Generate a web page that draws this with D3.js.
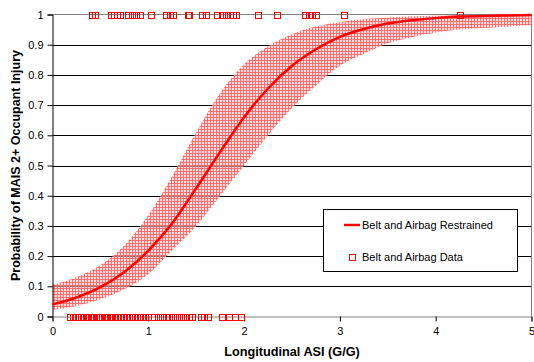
<!DOCTYPE html>
<html><head><meta charset="utf-8">
<script src="https://cdn.jsdelivr.net/npm/d3@7"></script>
<style>
body{margin:0;background:#fff;}
text{font-family:"Liberation Sans",Arial,sans-serif;}
</style></head>
<body><svg id="c" width="534" height="362"></svg>
<script>
const curveX = [0,0.25,0.5,0.75,1,1.25,1.5,1.75,2,2.25,2.5,2.75,3,3.25,3.5,3.75,4,4.25,4.5,4.75,5];
const curveP = [0.040,0.063,0.097,0.147,0.218,0.309,0.425,0.545,0.660,0.755,0.830,0.885,0.926,0.952,0.970,0.981,0.988,0.993,0.995,0.997,0.998];
const upperP = [0.105,0.13,0.17,0.235,0.335,0.465,0.61,0.74,0.835,0.895,0.935,0.96,0.975,0.985,0.99,0.994,0.996,0.997,0.998,0.999,0.999];
const lowerP = [0.022,0.035,0.057,0.09,0.14,0.22,0.30,0.40,0.50,0.60,0.69,0.765,0.83,0.87,0.905,0.925,0.94,0.95,0.955,0.96,0.965];
const injuredASI = [0.41,0.44,0.61,0.64,0.67,0.70,0.79,0.83,0.87,0.91,1.03,1.18,1.23,1.26,1.41,1.43,1.56,1.60,1.72,1.77,1.81,1.85,1.88,1.92,2.15,2.34,2.64,2.68,2.71,2.75,3.04,4.25];
const uninjuredASI = [0.18,0.21,0.24,0.27,0.30,0.32,0.35,0.37,0.40,0.42,0.45,0.47,0.50,0.52,0.55,0.57,0.60,0.62,0.65,0.67,0.70,0.72,0.75,0.78,0.80,0.83,0.86,0.88,0.91,0.94,0.97,1.00,1.06,1.10,1.14,1.18,1.22,1.26,1.30,1.34,1.38,1.42,1.46,1.55,1.58,1.62,1.77,1.84,1.91,1.97];
const xTicks = [0,1,2,3,4,5];
const yTicks = [0,0.1,0.2,0.3,0.4,0.5,0.6,0.7,0.8,0.9,1];
const xTitle = "Longitudinal ASI (G/G)";
const yTitle = "Probability of MAIS 2+ Occupant Injury";
const legendLabels = ["Belt and Airbag Restrained","Belt and Airbag Data"];

const svg = d3.select("#c");
const L=52.5, R=531.5, T=14.5, B=316.5;
const x = d3.scaleLinear().domain([0,5]).range([L,R]);
const y = d3.scaleLinear().domain([0,1]).range([B,T]);

const defs = svg.append("defs");
const pat = defs.append("pattern").attr("id","hatch").attr("patternUnits","userSpaceOnUse")
  .attr("width",3).attr("height",3);
pat.append("rect").attr("width",3).attr("height",3).attr("fill","#ffc8c8").attr("opacity",0.6);
pat.append("rect").attr("x",0).attr("y",0).attr("width",3).attr("height",1).attr("fill","#ff5a5a").attr("opacity",0.8);
pat.append("rect").attr("x",0).attr("y",0).attr("width",1).attr("height",3).attr("fill","#ff5a5a").attr("opacity",0.8);

// gridlines
svg.append("g").selectAll("line").data(yTicks.filter(d=>d>0 && d<1)).join("line")
  .attr("x1",L).attr("x2",R).attr("y1",d=>Math.round(y(d))+0.5).attr("y2",d=>Math.round(y(d))+0.5)
  .attr("stroke","#000").attr("stroke-width",1);
// plot border (gray)
svg.append("line").attr("x1",L).attr("x2",R).attr("y1",T).attr("y2",T).attr("stroke","#808080");
svg.append("line").attr("x1",R).attr("x2",R).attr("y1",T).attr("y2",B).attr("stroke","#808080");

const band = curveX.map((d,i)=>({x:d,lo:lowerP[i],hi:upperP[i],p:curveP[i]}));
svg.append("path").datum(band)
  .attr("d",d3.area().x(d=>x(d.x)).y0(d=>y(d.lo)).y1(d=>y(d.hi)).curve(d3.curveMonotoneX))
  .attr("fill","url(#hatch)");

// x axis
const xa = svg.append("g").attr("transform",`translate(0,${B})`)
  .call(d3.axisBottom(x).tickValues(xTicks).tickSize(5).tickFormat(d3.format("d")));
xa.select(".domain").attr("stroke","#808080");
xa.selectAll(".tick line").attr("stroke","#000");
xa.selectAll("text").attr("font-size",11).attr("fill","#000").attr("dy","0.95em");
// y axis
const ya = svg.append("g").attr("transform",`translate(${L},0)`)
  .call(d3.axisLeft(y).tickValues(yTicks).tickSize(5).tickFormat(d=>d3.format("")(+d.toFixed(1))));
ya.select(".domain").attr("stroke","#000");
ya.selectAll("text").attr("font-size",11).attr("fill","#000").attr("x",-9);

// curve
svg.append("path").datum(band)
  .attr("d",d3.line().x(d=>x(d.x)).y(d=>y(d.p)).curve(d3.curveMonotoneX))
  .attr("fill","none").attr("stroke","#ff0000").attr("stroke-width",2.5);

// data markers
const s=6;
const mx = d=>Math.round(x(d)-s/2)+0.5;
svg.append("g").selectAll("rect").data(injuredASI).join("rect")
  .attr("x",mx).attr("y",Math.round(y(1)-s/2)+0.5).attr("width",s).attr("height",s)
  .attr("fill","none").attr("stroke","#ff0000").attr("stroke-width",1);
svg.append("g").selectAll("rect").data(uninjuredASI).join("rect")
  .attr("x",mx).attr("y",Math.round(y(0)-s/2)+0.5).attr("width",s).attr("height",s)
  .attr("fill","none").attr("stroke","#ff0000").attr("stroke-width",1);

// titles
svg.append("text").attr("x",(L+R)/2).attr("y",356).attr("text-anchor","middle")
  .attr("font-size",12.7).attr("font-weight","bold").text(xTitle);
svg.append("text").attr("transform",`translate(20,${(T+B)/2}) rotate(-90)`).attr("text-anchor","middle")
  .attr("font-size",12.5).attr("font-weight","bold").text(yTitle);

// legend
const lg = svg.append("g");
lg.append("rect").attr("x",323.5).attr("y",209.5).attr("width",194).attr("height",62)
  .attr("fill","#fff").attr("stroke","#000");
lg.append("line").attr("x1",344).attr("x2",360).attr("y1",225).attr("y2",225).attr("stroke","#ff0000").attr("stroke-width",2.5);
lg.append("text").attr("x",362).attr("y",229).attr("font-size",11).text(legendLabels[0]);
lg.append("rect").attr("x",349.5).attr("y",254.5).attr("width",6).attr("height",6).attr("fill","none").attr("stroke","#ff0000");
lg.append("text").attr("x",362).attr("y",261).attr("font-size",11).text(legendLabels[1]);
</script></body></html>
